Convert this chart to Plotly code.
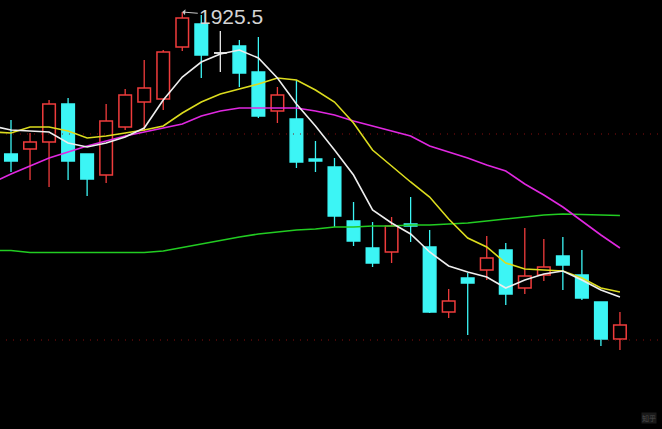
import plotly.graph_objects as go

# ---- data (price units) ----
idx = list(range(33))
opens  = [1854.5,1857,1860.5,1879.5,1854.5,1844,1868,1880.5,1882,1908,1919.5,1905,1908.5,1895.5,1876,1872,1852,1848,1821,1807.5,1805.5,1819.5,1808,1775.5,1792.5,1796.5,1806.5,1787.5,1794,1803.5,1794,1780.5,1762]
closes = [1851,1860.5,1879.5,1851,1842,1871,1884,1887.5,1905.5,1922.5,1904,1905,1895,1873.5,1884,1850.5,1851,1823.5,1811,1800,1818.5,1818.5,1775.5,1781,1790,1802.5,1784.5,1793.5,1798,1799,1782.5,1762,1769]
highs  = [1871.5,1865,1881.5,1882.5,1854.5,1879.5,1887,1901.5,1906.5,1925.5,1924,1916,1911.5,1913,1888,1891.5,1861,1852.5,1830.5,1820.5,1823,1833,1816.5,1787,1795,1813.5,1810,1817.5,1812,1813,1806.5,1780.5,1775.5]
lows   = [1845.5,1841.5,1838,1841.5,1833.5,1840,1866.5,1866,1876.5,1906,1892.5,1895.5,1888,1872.5,1870,1847.5,1845.5,1818,1808.5,1798,1800,1810.5,1775,1772.5,1764,1791.5,1779,1784.5,1791,1786.5,1781.5,1758.5,1756.5]

ma_idx = list(range(-1, 33))
ma5  = [1868.5,1866.5,1866,1865.5,1860,1858,1860,1863,1867.5,1881.5,1893,1900.5,1904.5,1906.5,1902.5,1892.5,1879.5,1868.5,1856.5,1844,1826.5,1820,1814.5,1805.5,1798.5,1795.5,1793,1787.5,1791.5,1794.5,1796,1791.5,1786.5,1783]
ma10 = [1865.5,1865,1868,1868,1866,1862.5,1863.5,1865,1866.5,1868.5,1875,1880.5,1884.5,1887,1889.5,1892.5,1891.5,1886.5,1880.5,1870,1856.5,1848.5,1840.5,1833,1822,1812.5,1808,1800,1797,1796.5,1796,1792.5,1787.5,1785.5]
ma20 = [1840,1844.5,1848.5,1852.5,1855.5,1858.5,1861,1863.5,1865.5,1867.5,1869.5,1873.5,1876,1877.5,1877.5,1877.5,1877.5,1876,1874,1871,1868.5,1866,1863.5,1858.5,1855.5,1852.5,1849,1846,1839.5,1834,1828,1821,1814,1807.5]
ma60 = [1806.25,1806.25,1805.25,1805.25,1805.25,1805.25,1805.25,1805.25,1805.25,1806,1807.75,1809.5,1811.5,1813,1814.5,1815.5,1816.5,1817,1818,1818,1818.5,1818.5,1819,1819,1819.5,1820,1821,1822,1823,1824,1824.5,1824.25,1824,1823.75]

levels = [1864.5, 1761.5]
high_label = "1925.5"

RED = "#f03c3c"
CYAN = "#3cf5f5"
WHITE = "#e8e8e8"

fig = go.Figure()

# dotted level lines
for lv in levels:
    fig.add_trace(go.Scatter(x=[-1, 35], y=[lv, lv], mode="lines",
                             line=dict(color="#8a1010", width=1, dash="1px,6px"),
                             hoverinfo="skip"))

# bodies
body_base, body_h, fillc, linec = [], [], [], []
for o, c in zip(opens, closes):
    body_base.append(min(o, c))
    body_h.append(abs(c - o))
    if c > o:
        fillc.append("#000000"); linec.append(RED)
    elif c < o:
        fillc.append(CYAN); linec.append(CYAN)
    else:
        fillc.append(WHITE); linec.append(WHITE)

fig.add_trace(go.Bar(x=idx, y=body_h, base=body_base, width=0.66,
                     marker=dict(color=fillc, line=dict(color=linec, width=1.5)),
                     hoverinfo="skip"))

# wicks
wx = {"up": [], "down": [], "doji": []}
wy = {"up": [], "down": [], "doji": []}
for i, o, c, h, l in zip(idx, opens, closes, highs, lows):
    top, bot = max(o, c), min(o, c)
    if c > o:
        k = "up"
    elif c < o:
        k = "down"
    else:
        k = "doji"
    wx[k] += [i, i, None, i, i, None]
    wy[k] += [h, top, None, bot, l, None]
    if k == "doji":
        wx[k] += [i - 0.33, i + 0.33, None]
        wy[k] += [o, o, None]
for k, col in (("up", RED), ("down", CYAN), ("doji", WHITE)):
    fig.add_trace(go.Scatter(x=wx[k], y=wy[k], mode="lines",
                             line=dict(color=col, width=1.3), hoverinfo="skip"))

# moving averages
for vals, col in ((ma60, "#22cc22"), (ma20, "#e028e0"), (ma10, "#dcdc1e"), (ma5, "#eeeeee")):
    fig.add_trace(go.Scatter(x=ma_idx, y=vals, mode="lines",
                             line=dict(color=col, width=1.6), hoverinfo="skip"))

imax = highs.index(max(highs))
fig.add_annotation(x=imax, y=highs[imax], text=high_label, showarrow=True,
                   ax=49, ay=4, arrowhead=1, arrowsize=1, arrowwidth=1,
                   arrowcolor="#c8c8c8",
                   font=dict(family="Liberation Sans, Arial", size=21, color="#d4d4d4"))

fig.add_annotation(x=1, y=0, xref="paper", yref="paper", xanchor="right", yanchor="bottom",
                   xshift=-5, yshift=5, text="知乎", showarrow=False,
                   bgcolor="#1a1a1a", borderpad=0,
                   font=dict(family="Noto Sans CJK SC", size=7, color="#4a4a4a"))

fig.update_layout(width=662, height=429, margin=dict(l=0, r=0, t=0, b=0),
                  paper_bgcolor="#000000", plot_bgcolor="#000000",
                  showlegend=False, barmode="overlay",
                  xaxis=dict(range=[-0.578, 34.21], visible=False, fixedrange=True),
                  yaxis=dict(range=[1717, 1931.5], visible=False, fixedrange=True))

fig.write_html("out.html", config={"displayModeBar": False},
               post_script="document.body.style.margin='0';document.body.style.overflow='hidden';document.body.style.background='#000';")
